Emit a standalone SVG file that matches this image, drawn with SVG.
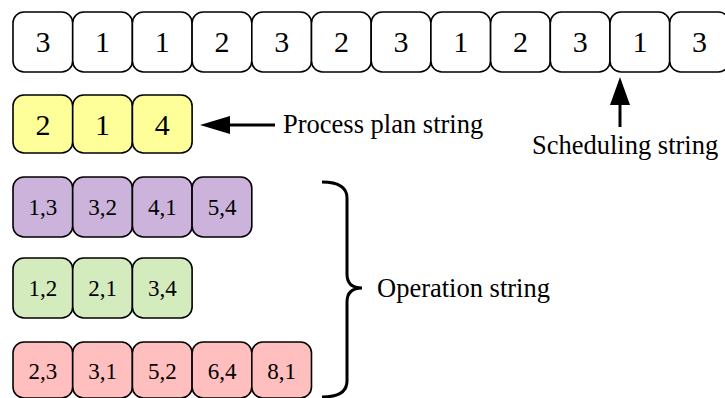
<svg xmlns="http://www.w3.org/2000/svg" width="725" height="398" viewBox="0 0 725 398" font-family="'Liberation Serif', 'DejaVu Serif', serif">
<style>
.b{stroke:#000;stroke-width:1.6}
.w{fill:#fff}.y{fill:#FFFF99}.p{fill:#CCB3DC}.g{fill:#D4EBBE}.r{fill:#FFBFBF}
text{font-family:'Liberation Serif','DejaVu Serif',serif;fill:#000}
.t{text-anchor:middle}
.big{font-size:30px}.sm{font-size:23px}
.lbl{font-size:26.5px}
.c{stroke:#000;stroke-width:3;fill:none}
</style>
<g id="scheduling">
<rect class="b w" x="13" y="12" width="59.7" height="60" rx="11"/><text class="t big" x="42.9" y="52">3</text>
<rect class="b w" x="72.7" y="12" width="59.7" height="60" rx="11"/><text class="t big" x="102.6" y="52">1</text>
<rect class="b w" x="132.4" y="12" width="59.7" height="60" rx="11"/><text class="t big" x="162.3" y="52">1</text>
<rect class="b w" x="192.1" y="12" width="59.7" height="60" rx="11"/><text class="t big" x="222" y="52">2</text>
<rect class="b w" x="251.8" y="12" width="59.7" height="60" rx="11"/><text class="t big" x="281.7" y="52">3</text>
<rect class="b w" x="311.5" y="12" width="59.7" height="60" rx="11"/><text class="t big" x="341.4" y="52">2</text>
<rect class="b w" x="371.2" y="12" width="59.7" height="60" rx="11"/><text class="t big" x="401.1" y="52">3</text>
<rect class="b w" x="430.9" y="12" width="59.7" height="60" rx="11"/><text class="t big" x="460.8" y="52">1</text>
<rect class="b w" x="490.6" y="12" width="59.7" height="60" rx="11"/><text class="t big" x="520.5" y="52">2</text>
<rect class="b w" x="550.3" y="12" width="59.7" height="60" rx="11"/><text class="t big" x="580.2" y="52">3</text>
<rect class="b w" x="610" y="12" width="59.7" height="60" rx="11"/><text class="t big" x="639.9" y="52">1</text>
<rect class="b w" x="669.7" y="12" width="59.7" height="60" rx="11"/><text class="t big" x="699.6" y="52">3</text>
</g>
<g id="processplan">
<rect class="b y" x="13" y="95" width="59.7" height="58" rx="11"/><text class="t big" x="42.9" y="134.5">2</text>
<rect class="b y" x="72.7" y="95" width="59.7" height="58" rx="11"/><text class="t big" x="102.6" y="134.5">1</text>
<rect class="b y" x="132.4" y="95" width="59.7" height="58" rx="11"/><text class="t big" x="162.3" y="134.5">4</text>
</g>
<g id="op1">
<rect class="b p" x="13" y="177" width="59.7" height="60" rx="11"/><text class="t sm" x="42.9" y="214.5">1,3</text>
<rect class="b p" x="72.7" y="177" width="59.7" height="60" rx="11"/><text class="t sm" x="102.6" y="214.5">3,2</text>
<rect class="b p" x="132.4" y="177" width="59.7" height="60" rx="11"/><text class="t sm" x="162.3" y="214.5">4,1</text>
<rect class="b p" x="192.1" y="177" width="59.7" height="60" rx="11"/><text class="t sm" x="222" y="214.5">5,4</text>
</g>
<g id="op2">
<rect class="b g" x="13" y="258" width="59.7" height="60" rx="11"/><text class="t sm" x="42.9" y="295.5">1,2</text>
<rect class="b g" x="72.7" y="258" width="59.7" height="60" rx="11"/><text class="t sm" x="102.6" y="295.5">2,1</text>
<rect class="b g" x="132.4" y="258" width="59.7" height="60" rx="11"/><text class="t sm" x="162.3" y="295.5">3,4</text>
</g>
<g id="op3">
<rect class="b r" x="13" y="342" width="59.7" height="56" rx="11"/><text class="t sm" x="42.9" y="378.5">2,3</text>
<rect class="b r" x="72.7" y="342" width="59.7" height="56" rx="11"/><text class="t sm" x="102.6" y="378.5">3,1</text>
<rect class="b r" x="132.4" y="342" width="59.7" height="56" rx="11"/><text class="t sm" x="162.3" y="378.5">5,2</text>
<rect class="b r" x="192.1" y="342" width="59.7" height="56" rx="11"/><text class="t sm" x="222" y="378.5">6,4</text>
<rect class="b r" x="251.8" y="342" width="59.7" height="56" rx="11"/><text class="t sm" x="281.7" y="378.5">8,1</text>
</g>
<g id="connectors">
<line class="c" x1="229" y1="125" x2="275" y2="125"/>
<polygon points="200,125 230,116 230,134" fill="#000"/>
<line class="c" x1="620" y1="104" x2="620" y2="127"/>
<polygon points="620,77 610,105 630,105" fill="#000"/>
<path class="c" d="M322,182 Q347,182 347,198 L347,274 Q347,288 362,288 Q347,288 347,302 L347,381 Q347,397 322,397"/>
</g>
<g id="labels">
<text class="lbl" x="283" y="133">Process plan string</text>
<text class="lbl" x="532" y="154">Scheduling string</text>
<text class="lbl" x="377" y="297">Operation string</text>
</g>
</svg>
